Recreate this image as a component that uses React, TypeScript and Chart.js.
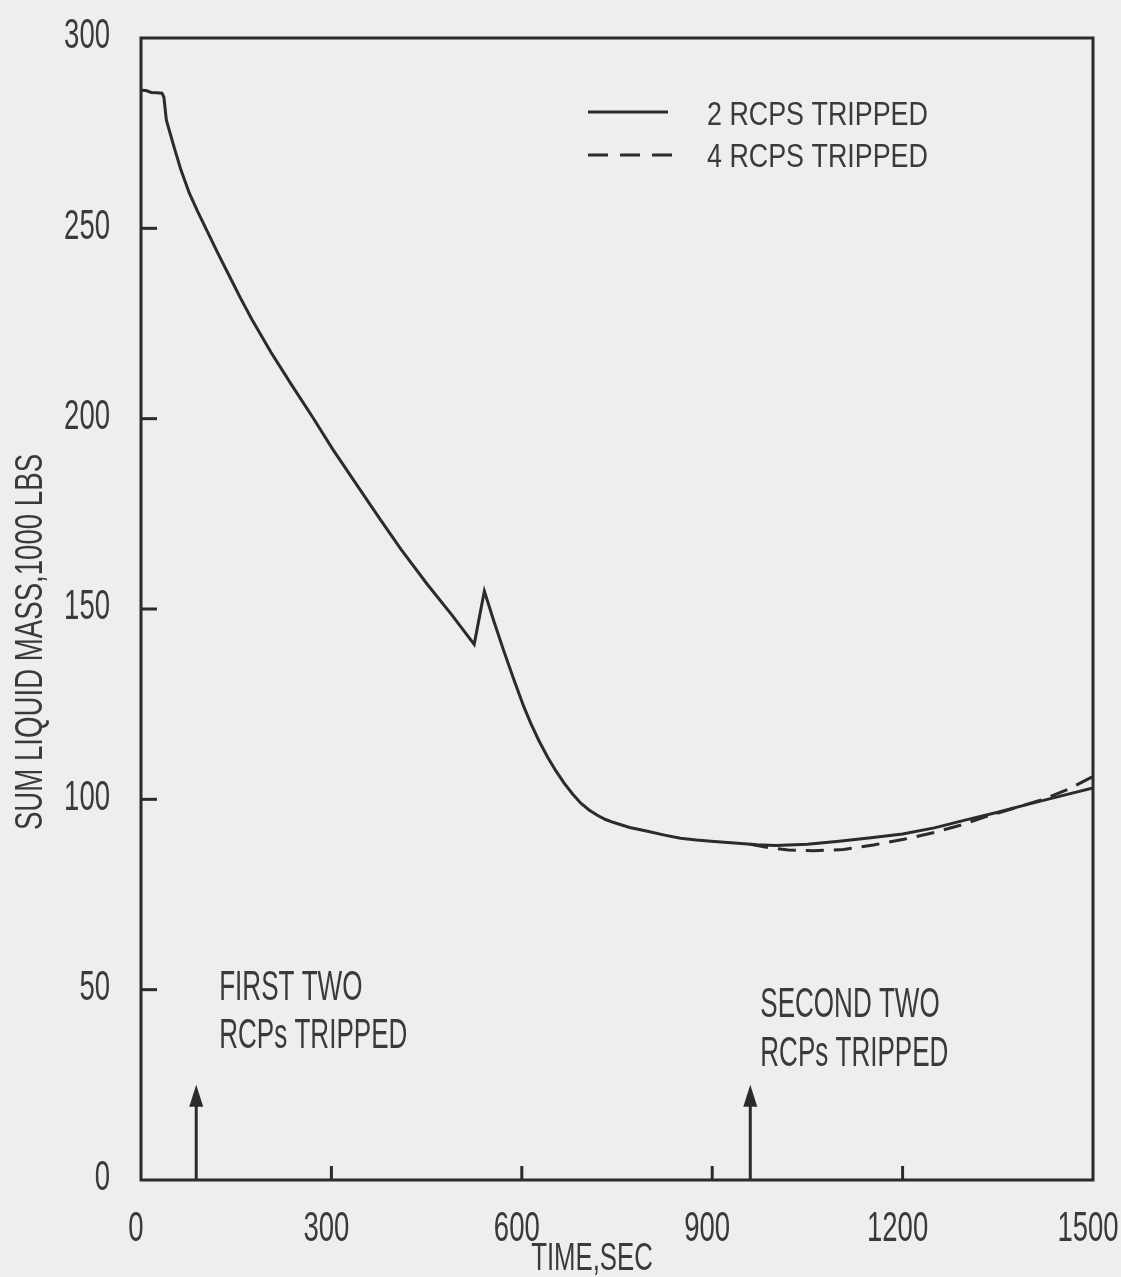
import React, { useEffect, useRef } from "react";
import { Chart, registerables } from "chart.js";

Chart.register(...registerables);

// ---------- data ----------
const solidTime = [
  0, 8, 16, 25, 33, 36, 40, 52, 63, 76, 89, 105, 121, 137, 157, 175, 205, 236, 270, 302,
  340, 375, 410, 451, 490, 525, 541, 556, 572, 588, 603, 614, 627, 641, 654, 667, 680, 693,
  706, 719, 732, 745, 770, 798, 825, 850, 875, 903, 935, 971, 1000, 1050, 1100, 1150, 1200,
  1250, 1300, 1350, 1400, 1450, 1500,
];
const solidMass = [
  286.3, 286.2, 285.7, 285.6, 285.5, 284.5, 278.4, 271.4, 265.3, 259.3, 254.5, 249.0, 243.5,
  238.2, 231.6, 226.0, 217.4, 209.2, 200.5, 192.0, 182.6, 174.0, 165.6, 156.5, 148.4, 140.7,
  154.7, 146.8, 138.8, 131.2, 124.4, 120.0, 115.4, 111.0, 107.4, 104.2, 101.4, 99.0, 97.2,
  95.8, 94.7, 93.9, 92.6, 91.6, 90.6, 89.8, 89.3, 88.9, 88.5, 88.1, 87.9, 88.2, 89.0, 89.9,
  90.9, 92.5, 94.6, 96.6, 98.8, 100.9, 103.0,
];
const dashedTime = [960, 990, 1020, 1060, 1107, 1154, 1202, 1250, 1291, 1330, 1380, 1420, 1460, 1500];
const dashedMass = [88.2, 87.3, 86.7, 86.5, 86.8, 88.0, 89.5, 91.3, 93.2, 95.4, 97.9, 99.9, 102.6, 106.0];

const xTickValues = [0, 300, 600, 900, 1200, 1500];
const xTickLabels = ["0", "300", "600", "900", "1200", "1500"];
const yTickValues = [0, 50, 100, 150, 200, 250, 300];
const yTickLabels = ["0", "50", "100", "150", "200", "250", "300"];

const seriesLabels = ["2 RCPS TRIPPED", "4 RCPS TRIPPED"];
const xTitle = "TIME,SEC";
const yTitle = "SUM LIQUID MASS,1000 LBS";

const tripTimes = [87, 960];
const tripArrowTop = 25;
const tripNotes = [
  ["FIRST TWO", "RCPs TRIPPED"],
  ["SECOND TWO", "RCPs TRIPPED"],
];

// ---------- styling ----------
const FONT = '"Liberation Sans", Arial, sans-serif';
const INK = "#2b2b2b";
const TEXT = "#3a3a3a";
const PAPER = "#eeeeee";

function drawText(
  ctx: CanvasRenderingContext2D,
  s: string,
  x: number,
  capCenterY: number,
  size: number,
  sx: number,
  align: CanvasTextAlign,
  rot = 0
) {
  ctx.save();
  ctx.translate(x, capCenterY);
  if (rot) ctx.rotate(rot);
  ctx.scale(sx, 1);
  ctx.font = `${size}px ${FONT}`;
  ctx.textAlign = align;
  ctx.textBaseline = "alphabetic";
  ctx.fillStyle = TEXT;
  ctx.fillText(s, 0, 0.358 * size);
  ctx.restore();
}

const decor = {
  id: "decor",
  beforeDraw(chart: any) {
    const { ctx, width, height } = chart;
    ctx.save();
    ctx.fillStyle = PAPER;
    ctx.fillRect(0, 0, width, height);
    ctx.restore();
  },
  afterDraw(chart: any) {
    const { ctx, chartArea } = chart;
    const xs = chart.scales.x;
    const ys = chart.scales.y;
    const { left, right, top, bottom } = chartArea;

    ctx.save();
    ctx.strokeStyle = INK;
    ctx.fillStyle = INK;
    ctx.lineWidth = 3;
    ctx.lineCap = "butt";

    // frame
    ctx.strokeRect(left, top, right - left, bottom - top);

    // inward tick marks
    ys.ticks.forEach((t: any) => {
      if (t.value <= ys.min || t.value >= ys.max) return;
      const py = ys.getPixelForValue(t.value);
      ctx.beginPath();
      ctx.moveTo(left, py);
      ctx.lineTo(left + 16, py);
      ctx.stroke();
    });
    xs.ticks.forEach((t: any) => {
      if (t.value <= xs.min || t.value >= xs.max) return;
      const px = xs.getPixelForValue(t.value);
      ctx.beginPath();
      ctx.moveTo(px, bottom);
      ctx.lineTo(px, bottom - 14);
      ctx.stroke();
    });

    // tick labels
    yTickValues.forEach((v, i) => {
      const py = ys.getPixelForValue(v);
      drawText(ctx, yTickLabels[i], left - 31, py - 5, 43, 0.64, "right");
    });
    xTickValues.forEach((v, i) => {
      const px = xs.getPixelForValue(v);
      drawText(ctx, xTickLabels[i], px - 5, bottom + 46, 43, 0.64, "center");
    });

    // axis titles
    drawText(ctx, xTitle, 592, bottom + 76, 39, 0.66, "center");
    drawText(ctx, yTitle, 28, 642, 38, 0.727, "center", -Math.PI / 2);

    // legend
    const lx0 = 588;
    ctx.lineWidth = 3;
    ctx.beginPath();
    ctx.moveTo(lx0, 112);
    ctx.lineTo(lx0 + 80, 112);
    ctx.stroke();
    ctx.setLineDash([20, 12]);
    ctx.beginPath();
    ctx.moveTo(lx0, 155);
    ctx.lineTo(lx0 + 89, 155);
    ctx.stroke();
    ctx.setLineDash([]);
    drawText(ctx, seriesLabels[0], 707, 113, 34, 0.79, "left");
    drawText(ctx, seriesLabels[1], 707, 155, 34, 0.79, "left");

    // trip arrows
    const noteStyle = [
      { dx: 23, y1: 985, y2: 1033 },
      { dx: 10, y1: 1002, y2: 1051 },
    ];
    tripTimes.forEach((t, i) => {
      const px = xs.getPixelForValue(t);
      const ptop = ys.getPixelForValue(tripArrowTop);
      ctx.lineWidth = 3;
      ctx.beginPath();
      ctx.moveTo(px, bottom);
      ctx.lineTo(px, ptop + 16);
      ctx.stroke();
      ctx.beginPath();
      ctx.moveTo(px, ptop);
      ctx.lineTo(px - 7, ptop + 22);
      ctx.lineTo(px + 7, ptop + 22);
      ctx.closePath();
      ctx.fill();
      const st = noteStyle[i];
      drawText(ctx, tripNotes[i][0], px + st.dx, st.y1, 42, 0.62, "left");
      drawText(ctx, tripNotes[i][1], px + st.dx, st.y2, 42, 0.62, "left");
    });

    ctx.restore();
  },
};

export default function App() {
  const canvasRef = useRef<HTMLCanvasElement | null>(null);

  useEffect(() => {
    document.body.style.margin = "0";
    const canvas = canvasRef.current;
    if (!canvas) return;

    const solidData = solidTime.map((t, i) => ({ x: t, y: solidMass[i] }));
    const dashedData = dashedTime.map((t, i) => ({ x: t, y: dashedMass[i] }));

    const chart = new Chart(canvas, {
      type: "scatter",
      data: {
        datasets: [
          {
            label: seriesLabels[0],
            data: solidData,
            showLine: true,
            borderColor: INK,
            borderWidth: 3,
            pointRadius: 0,
            tension: 0,
          },
          {
            label: seriesLabels[1],
            data: dashedData,
            showLine: true,
            borderColor: INK,
            borderWidth: 3,
            borderDash: [18, 10],
            pointRadius: 0,
            tension: 0,
          },
        ],
      },
      options: {
        responsive: false,
        animation: false,
        layout: { padding: { left: 133, right: 28, top: 38, bottom: 89 } },
        plugins: { legend: { display: false }, tooltip: { enabled: false } },
        scales: {
          x: {
            type: "linear",
            min: 0,
            max: 1500,
            afterBuildTicks: (s: any) => {
              s.ticks = xTickValues.map((v) => ({ value: v }));
            },
            ticks: { display: false },
            grid: { display: false },
            border: { display: false },
          },
          y: {
            type: "linear",
            min: 0,
            max: 300,
            afterBuildTicks: (s: any) => {
              s.ticks = yTickValues.map((v) => ({ value: v }));
            },
            ticks: { display: false },
            grid: { display: false },
            border: { display: false },
          },
        },
      },
      plugins: [decor],
    });

    return () => chart.destroy();
  }, []);

  return (
    <div style={{ position: "absolute", left: 0, top: 0, width: 1121, height: 1277 }}>
      <canvas ref={canvasRef} width={1121} height={1277} style={{ width: 1121, height: 1277 }} />
    </div>
  );
}
